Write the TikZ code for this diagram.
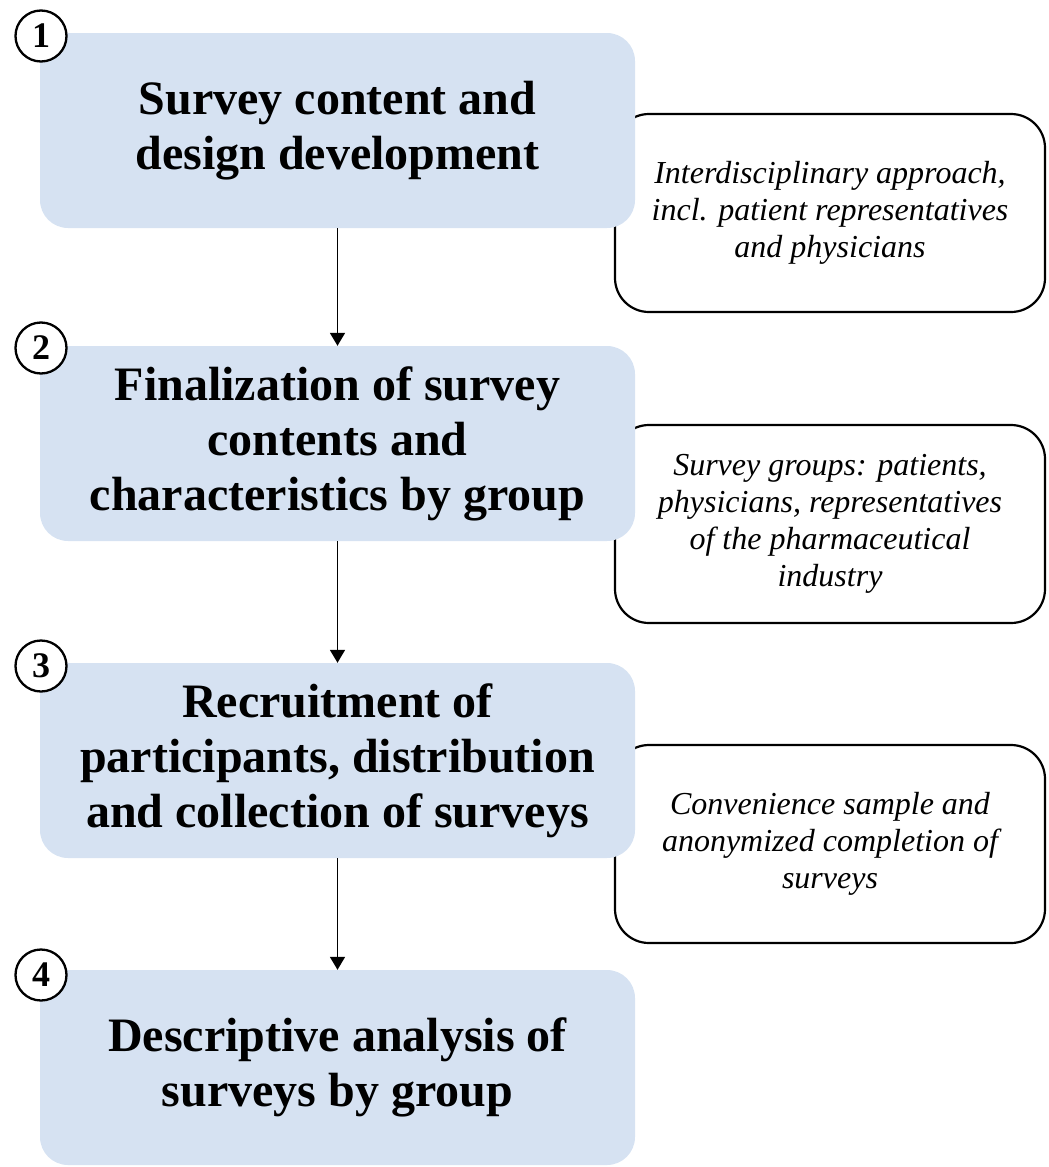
\documentclass[tikz,border=0pt]{standalone}
\usepackage{fontspec}
\setmainfont{Liberation Serif}
\usetikzlibrary{arrows.meta}
\definecolor{stepfill}{RGB}{214,226,242}
\begin{document}
\begin{tikzpicture}[x=1pt,y=-1pt,
  stepbox/.style={rectangle, rounded corners=28pt, fill=stepfill,
    minimum width=595pt, minimum height=195pt, align=center, inner sep=0pt,
    font=\fontsize{48}{55}\selectfont\bfseries},
  notebox/.style={rectangle, rounded corners=34pt, draw=black, line width=2.2pt,
    fill=white, minimum width=430pt, minimum height=198pt, align=center,
    inner sep=0pt, font=\fontsize{32}{37}\selectfont\itshape},
  numtag/.style={circle, draw=black, line width=2.3pt, fill=white,
    minimum size=51pt, inner sep=0pt, font=\fontsize{36}{36}\selectfont\bfseries},
  flow/.style={line width=1.8pt, -{Triangle[length=13pt,width=15pt]}}]
\useasboundingbox (0,0) rectangle (1049,1167);

% side notes (drawn first so the step boxes overlap them)
\node[notebox] (n1) at (830,213) {Interdisciplinary approach,\\incl. patient representatives\\and physicians};
\node[notebox] (n2) at (830,524) {Survey groups: patients,\\physicians, representatives\\of the pharmaceutical\\industry};
\node[notebox] (n3) at (830,844) {Convenience sample and\\anonymized completion of\\surveys};

% main steps
\node[stepbox] (s1) at (337.5,130.5) {Survey content and\\design development};
\node[stepbox] (s2) at (337.5,443.5) {Finalization of survey\\contents and\\characteristics by group};
\node[stepbox] (s3) at (337.5,760.5) {Recruitment of\\participants, distribution\\and collection of surveys};
\node[stepbox] (s4) at (337.5,1067.5) {Descriptive analysis of\\surveys by group};

% step numbers
\node[numtag] (t1) at (41,36) {1};
\node[numtag] (t2) at (41,348) {2};
\node[numtag] (t3) at (41,666) {3};
\node[numtag] (t4) at (41,975) {4};

% flow between steps
\draw[flow] (s1.south) -- (s2.north);
\draw[flow] (s2.south) -- (s3.north);
\draw[flow] (s3.south) -- (s4.north);
\end{tikzpicture}
\end{document}
